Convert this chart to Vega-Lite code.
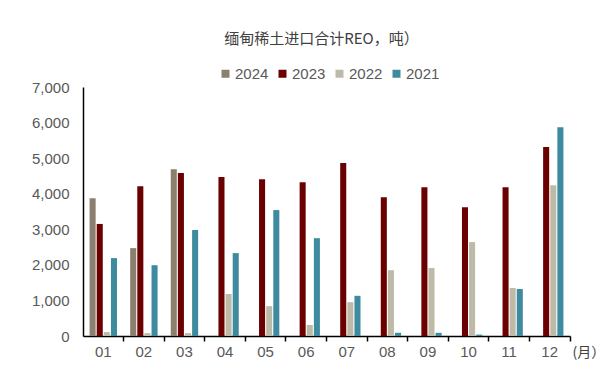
{
  "$schema": "https://vega.github.io/schema/vega-lite/v6.json",
  "width": 487,
  "height": 249,
  "autosize": "none",
  "padding": {"left": 83, "top": 87, "right": 37, "bottom": 39},
  "background": "white",
  "config": {
    "font": "Liberation Sans, Noto Sans CJK SC",
    "view": {"stroke": null}
  },
  "data": {
    "values": [
      {"month": "01", "year": "2024", "value": 3870},
      {"month": "01", "year": "2023", "value": 3150},
      {"month": "01", "year": "2022", "value": 110},
      {"month": "01", "year": "2021", "value": 2190},
      {"month": "02", "year": "2024", "value": 2470},
      {"month": "02", "year": "2023", "value": 4210},
      {"month": "02", "year": "2022", "value": 80},
      {"month": "02", "year": "2021", "value": 1990},
      {"month": "03", "year": "2024", "value": 4690},
      {"month": "03", "year": "2023", "value": 4580},
      {"month": "03", "year": "2022", "value": 80},
      {"month": "03", "year": "2021", "value": 2980},
      {"month": "04", "year": "2023", "value": 4470},
      {"month": "04", "year": "2022", "value": 1180},
      {"month": "04", "year": "2021", "value": 2330},
      {"month": "05", "year": "2023", "value": 4410},
      {"month": "05", "year": "2022", "value": 840},
      {"month": "05", "year": "2021", "value": 3540},
      {"month": "06", "year": "2023", "value": 4320},
      {"month": "06", "year": "2022", "value": 310},
      {"month": "06", "year": "2021", "value": 2750},
      {"month": "07", "year": "2023", "value": 4860},
      {"month": "07", "year": "2022", "value": 950},
      {"month": "07", "year": "2021", "value": 1130},
      {"month": "08", "year": "2023", "value": 3900},
      {"month": "08", "year": "2022", "value": 1850},
      {"month": "08", "year": "2021", "value": 90},
      {"month": "09", "year": "2023", "value": 4180},
      {"month": "09", "year": "2022", "value": 1910},
      {"month": "09", "year": "2021", "value": 90},
      {"month": "10", "year": "2023", "value": 3620},
      {"month": "10", "year": "2022", "value": 2640},
      {"month": "10", "year": "2021", "value": 40},
      {"month": "11", "year": "2023", "value": 4180},
      {"month": "11", "year": "2022", "value": 1350},
      {"month": "11", "year": "2021", "value": 1320},
      {"month": "12", "year": "2023", "value": 5310},
      {"month": "12", "year": "2022", "value": 4240},
      {"month": "12", "year": "2021", "value": 5870}
    ]
  },
  "layer": [
    {
      "mark": {"type": "bar"},
      "encoding": {
        "x": {
          "field": "month",
          "type": "nominal",
          "scale": {"paddingInner": 0, "paddingOuter": 0},
          "axis": {
            "orient": "bottom",
            "title": "(月）",
            "titleFont": "Noto Sans CJK SC",
            "titleFontSize": 14,
            "titleFontWeight": "normal",
            "titleColor": "#404040",
            "titleAnchor": "end",
            "titleAlign": "left",
            "titleBaseline": "middle",
            "titleX": 489,
            "titleY": 16,
            "labelAngle": 0,
            "labelFontSize": 15,
            "labelColor": "#595959",
            "labelPadding": 8,
            "ticks": false,
            "domainColor": "#000000",
            "domainWidth": 1.5
          }
        },
        "xOffset": {
          "field": "year",
          "type": "nominal",
          "sort": ["2024", "2023", "2022", "2021"],
          "scale": {"paddingInner": 0.15, "paddingOuter": 0.925}
        },
        "y": {
          "field": "value",
          "type": "quantitative",
          "scale": {"domain": [0, 7000], "nice": false},
          "axis": {
            "title": null,
            "values": [0, 1000, 2000, 3000, 4000, 5000, 6000, 7000],
            "format": ",.0f",
            "grid": false,
            "ticks": false,
            "labelFontSize": 15,
            "labelColor": "#595959",
            "labelPadding": 14,
            "domainColor": "#000000",
            "domainWidth": 1.5
          }
        },
        "color": {
          "field": "year",
          "type": "nominal",
          "sort": ["2024", "2023", "2022", "2021"],
          "scale": {
            "domain": ["2024", "2023", "2022", "2021"],
            "range": ["#8B7F6E", "#6B0000", "#BDBBA7", "#3E8A9E"]
          },
          "legend": {
            "title": null,
            "orient": "none",
            "direction": "horizontal",
            "legendX": 135,
            "legendY": -21,
            "symbolType": "square",
            "symbolSize": 64,
            "symbolStrokeWidth": 0,
            "labelFontSize": 15,
            "labelColor": "#595959",
            "columnPadding": 6,
            "labelOffset": 2
          }
        }
      }
    },
    {
      "mark": {"type": "bar", "opacity": 0},
      "encoding": {
        "x": {
          "field": "month",
          "type": "nominal",
          "axis": {
            "orient": "bottom",
            "bandPosition": 1,
            "labels": false,
            "title": null,
            "domain": false,
            "ticks": true,
            "tickColor": "#000000",
            "tickSize": 5,
            "tickWidth": 1.5
          }
        },
        "y": {
          "field": "value",
          "type": "quantitative",
          "scale": {"domain": [0, 7000], "nice": false},
          "axis": {
            "title": null,
            "values": [0, 1000, 2000, 3000, 4000, 5000, 6000, 7000],
            "format": ",.0f",
            "grid": false,
            "ticks": false,
            "labelFontSize": 15,
            "labelColor": "#595959",
            "labelPadding": 14,
            "domainColor": "#000000",
            "domainWidth": 1.5
          }
        }
      }
    },
    {
      "mark": {"type": "bar", "opacity": 0},
      "encoding": {
        "x": {
          "field": "month",
          "type": "nominal",
          "axis": {
            "orient": "top",
            "labels": false,
            "ticks": false,
            "domain": false,
            "title": "缅甸稀土进口合计REO，吨）",
            "titleFont": "Noto Sans CJK SC",
            "titleFontSize": 15,
            "titleFontWeight": "normal",
            "titleColor": "#404040",
            "titleAnchor": "middle",
            "titleAlign": "center",
            "titleBaseline": "middle",
            "titleX": 238,
            "titleY": -49
          }
        },
        "y": {
          "field": "value",
          "type": "quantitative",
          "scale": {"domain": [0, 7000], "nice": false},
          "axis": {
            "title": null,
            "values": [0, 1000, 2000, 3000, 4000, 5000, 6000, 7000],
            "format": ",.0f",
            "grid": false,
            "ticks": false,
            "labelFontSize": 15,
            "labelColor": "#595959",
            "labelPadding": 14,
            "domainColor": "#000000",
            "domainWidth": 1.5
          }
        }
      }
    }
  ],
  "resolve": {"axis": {"x": "independent"}}
}
